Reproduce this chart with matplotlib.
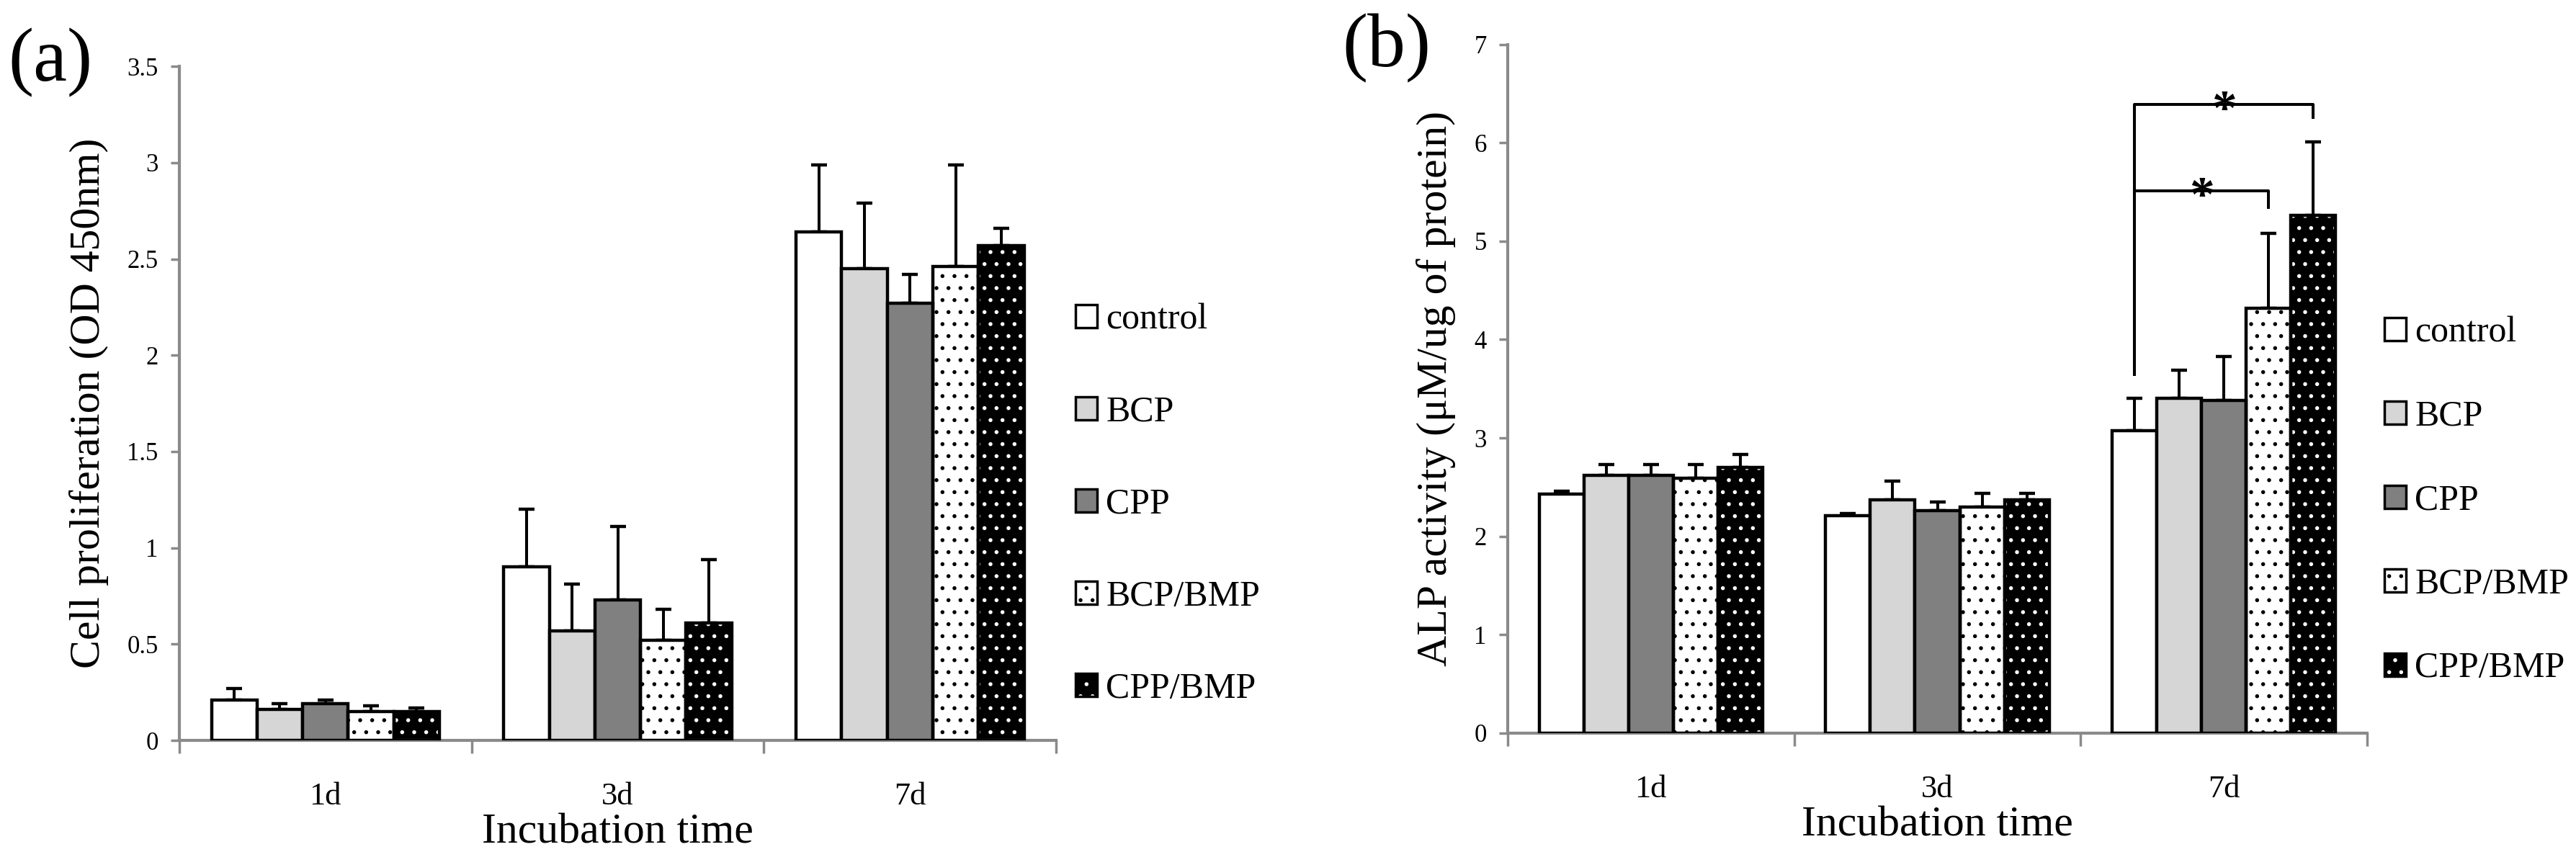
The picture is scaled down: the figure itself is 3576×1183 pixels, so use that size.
import numpy as np
import matplotlib
matplotlib.use('Agg')
from matplotlib import pyplot as plt
from matplotlib.patches import Patch
from matplotlib.legend_handler import HandlerTuple

# data
days = ['1d', '3d', '7d']
groups = ['control', 'BCP', 'CPP', 'BCP/BMP', 'CPP/BMP']

# (a) cell proliferation, OD 450nm: mean and upper error per group, per day
prolif_mean = {
    'control': [0.21, 0.90, 2.64],
    'BCP': [0.16, 0.57, 2.45],
    'CPP': [0.19, 0.73, 2.27],
    'BCP/BMP': [0.15, 0.52, 2.46],
    'CPP/BMP': [0.15, 0.61, 2.57],
}
prolif_err = {
    'control': [0.06, 0.30, 0.35],
    'BCP': [0.03, 0.24, 0.34],
    'CPP': [0.02, 0.38, 0.15],
    'BCP/BMP': [0.03, 0.16, 0.53],
    'CPP/BMP': [0.02, 0.33, 0.09],
}

# (b) ALP activity
alp_mean = {
    'control': [2.43, 2.21, 3.07],
    'BCP': [2.62, 2.37, 3.40],
    'CPP': [2.62, 2.26, 3.38],
    'BCP/BMP': [2.59, 2.30, 4.32],
    'CPP/BMP': [2.70, 2.37, 5.26],
}
alp_err = {
    'control': [0.03, 0.02, 0.33],
    'BCP': [0.11, 0.19, 0.29],
    'CPP': [0.11, 0.09, 0.45],
    'BCP/BMP': [0.14, 0.14, 0.76],
    'CPP/BMP': [0.13, 0.07, 0.75],
}

# significance brackets on 7d, (b): from control to group, bracket height, right drop end
sig_pairs = [('BCP/BMP', 5.51, 5.33), ('CPP/BMP', 6.39, 6.24)]
sig_start = 3.63

styles = {
    'control': dict(face='white', hatch=None, hatch_col=None),
    'BCP': dict(face='#d6d6d6', hatch=None, hatch_col=None),
    'CPP': dict(face='#808080', hatch=None, hatch_col=None),
    'BCP/BMP': dict(face='white', hatch='.', hatch_col='black'),
    'CPP/BMP': dict(face='black', hatch='.', hatch_col='white'),
}

plt.rcParams['font.family'] = ['Liberation Serif', 'DejaVu Serif']
plt.rcParams['hatch.linewidth'] = 1.5

GREY = '#8a8a8a'
BAR_W = 0.156
EDGE_W = 3.2


def draw_bars(ax, means, errs):
    x = np.arange(len(days))
    for i, g in enumerate(groups):
        pos = x + (i - 2) * BAR_W
        st = styles[g]
        if st['hatch']:
            ax.bar(pos, means[g], BAR_W, color=st['face'], edgecolor=st['hatch_col'],
                   hatch=st['hatch'], linewidth=0, zorder=2)
            ax.bar(pos, means[g], BAR_W, facecolor='none', edgecolor='black',
                   linewidth=EDGE_W, zorder=3)
        else:
            ax.bar(pos, means[g], BAR_W, color=st['face'], edgecolor='black',
                   linewidth=EDGE_W, zorder=3)
        ax.errorbar(pos, means[g], yerr=[np.zeros(len(days)), errs[g]], fmt='none',
                    ecolor='black', elinewidth=2.9, capsize=8, capthick=3.2, zorder=1)


def style_axes(ax, ymax, ystep, ylabel, ytickfmt):
    ax.set_xlim(-0.5, 2.5)
    ax.set_ylim(0, ymax)
    ticks = np.arange(0, ymax + ystep / 2, ystep)
    ax.set_yticks(ticks)
    ax.set_yticklabels([ytickfmt(v) for v in ticks])
    ax.set_xticks(range(len(days)))
    ax.set_xticklabels(days)
    ax.set_xticks([-0.5, 0.5, 1.5, 2.5], minor=True)
    for side in ['top', 'right']:
        ax.spines[side].set_visible(False)
    for side in ['left', 'bottom']:
        ax.spines[side].set_color(GREY)
        ax.spines[side].set_linewidth(3.0)
    ax.tick_params(axis='y', colors=GREY, labelcolor='black', length=9, width=2.5,
                   labelsize=25, pad=12)
    ax.tick_params(axis='x', which='major', length=0, labelsize=32, pad=42)
    ax.tick_params(axis='x', which='minor', colors=GREY, length=13, width=2.5)
    ax.set_xlabel('Incubation time', fontsize=43, labelpad=2)
    ax.set_ylabel(ylabel, fontsize=43, labelpad=18)


def add_legend(ax, anchor, spacing):
    handles = []
    for g in groups:
        st = styles[g]
        if st['hatch']:
            h = (Patch(facecolor=st['face'], edgecolor=st['hatch_col'], hatch=st['hatch'], linewidth=0),
                 Patch(facecolor='none', edgecolor='black', linewidth=2.5))
        else:
            h = Patch(facecolor=st['face'], edgecolor='black', linewidth=2.5)
        handles.append(h)
    ax.legend(handles, groups, loc='center left', bbox_to_anchor=anchor, frameon=False,
              fontsize=36, handlelength=0.6, handleheight=0.6, handletextpad=0.25,
              labelspacing=spacing, borderaxespad=0, borderpad=0,
              handler_map={tuple: HandlerTuple(ndivide=1, pad=0)})


fig = plt.figure(figsize=(35.76, 11.83), dpi=100)
ax1 = fig.add_axes([0.0696, 0.131, 0.3404, 0.791])
ax2 = fig.add_axes([0.5853, 0.1395, 0.3336, 0.8085])

draw_bars(ax1, prolif_mean, prolif_err)
style_axes(ax1, 3.5, 0.5, 'Cell proliferation (OD 450nm)',
           lambda v: '0' if v == 0 else ('%d' % v if v == int(v) else '%.1f' % v))
add_legend(ax1, (1.022, 0.35), 1.63)

draw_bars(ax2, alp_mean, alp_err)
style_axes(ax2, 7, 1, 'ALP activity (μM/ug of protein)', lambda v: '%d' % v)
add_legend(ax2, (1.02, 0.3375), 1.40)

# significance brackets
x_ctrl = 2 + (0 - 2) * BAR_W
for g, y_top, y_drop in sig_pairs:
    xg = 2 + (groups.index(g) - 2) * BAR_W
    ax2.plot([x_ctrl, x_ctrl, xg, xg], [sig_start, y_top, y_top, y_drop], color='black',
             linewidth=2.9, solid_capstyle='butt', zorder=4)
    ax2.text((x_ctrl + xg) / 2, y_top - 0.08, '*', ha='center', va='center',
             fontsize=50, fontweight='bold', zorder=5)

fig.text(0.0196, 0.926, '(a)', fontsize=76, ha='center', va='center')
fig.text(0.5383, 0.943, '(b)', fontsize=76, ha='center', va='center')

fig.savefig('out.png', dpi=100, facecolor='white')
